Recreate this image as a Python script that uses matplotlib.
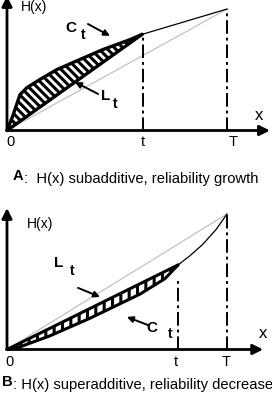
import matplotlib
matplotlib.use("Agg")
import matplotlib.pyplot as plt
import numpy as np

plt.rcParams['font.family'] = ['Liberation Sans', 'DejaVu Sans']
plt.rcParams['hatch.linewidth'] = 2.2

# panel A: subadditive H(x), T = 1
t_a = 0.617
x_a = [0, 0.027, 0.059, 0.091, 0.15, 0.227, 0.332, 0.436, 0.559, 0.614]
h_a = [0, 0.068, 0.163, 0.195, 0.232, 0.277, 0.323, 0.368, 0.413, 0.437]
hT_a = 0.552

# panel B: superadditive H(x)
t_b = 0.777
x_b = [0, 0.059, 0.195, 0.377, 0.605, 0.718, 0.777]
h_b = [0, 0.012, 0.062, 0.142, 0.252, 0.322, 0.384]
x_b2 = [0.777, 0.83, 0.89, 0.95, 1.0]
h_b2 = [0.384, 0.425, 0.478, 0.545, 0.616]

ticks = ['0', 't', 'T']
cap_a = ('A', ':  H(x) subadditive, reliability growth')
cap_b = ('B', ': H(x) superadditive, reliability decrease')

FS = 10
CAP_FS = 10.6
dashdot = (0, (7, 2, 1.5, 2))


def arrow(ax, x0, y0, x1, y1, lw=1.6, ms=11):
    ax.annotate('', xy=(x1, y1), xytext=(x0, y0), annotation_clip=False,
                arrowprops=dict(arrowstyle='-|>', lw=lw, color='black',
                                mutation_scale=ms, shrinkA=0, shrinkB=0))


def frame(ax, xtip, ytip, ylab, xs, ylbl, xl):
    arrow(ax, 0, 0, xtip, 0, lw=2, ms=15)
    arrow(ax, 0, 0, 0, ytip, lw=2, ms=15)
    for lab, xx in zip(ticks, xs):
        ax.text(xx, ylbl, lab, fontsize=FS + 0.5, ha='center', va='center')
    ax.text(ylab[0], ylab[1], 'H(x)', fontsize=FS, ha='left', va='center')
    ax.text(xl[0], xl[1], 'x', fontsize=FS + 2, ha='center', va='center')


def sub_label(ax, letter, p1, p2, fs=11):
    ax.text(p1[0], p1[1], letter, fontsize=fs, fontweight='bold', ha='center', va='center')
    ax.text(p2[0], p2[1], 't', fontsize=fs - 1, fontweight='bold', ha='center', va='center')


def caption(ax, x, y, cap):
    first = ax.text(x, y, cap[0], fontsize=CAP_FS, fontweight='bold', ha='left', va='baseline')
    ax.annotate(cap[1], xy=(1, 0), xycoords=first, fontsize=CAP_FS, ha='left', va='baseline')


fig = plt.figure(figsize=(2.72, 3.96), dpi=100)
axA = fig.add_axes([0, 200 / 396, 1, 200 / 396])
axB = fig.add_axes([0, 0, 1, 196 / 396])
axA.set_xlim(-7 / 220, 265 / 220)
axA.set_ylim(-65.5 / 220, 134.5 / 220)
axB.set_xlim(-7 / 220, 265 / 220)
axB.set_ylim(-46.5 / 220, 149.5 / 220)
for ax in (axA, axB):
    ax.axis('off')

# ---- panel A
xa = np.array(x_a)
ha = np.array(h_a)
chord_a = ha[-1] / xa[-1] * xa
axA.plot([0, 1], [0, hT_a], color='#bbbbbb', lw=0.8)
axA.fill_between(xa, chord_a, ha, facecolor='white', edgecolor='black',
                 hatch='\\\\\\\\', lw=0)
axA.plot(xa, ha, color='black', lw=2.4, solid_capstyle='round')
axA.plot([0, xa[-1]], [0, ha[-1]], color='black', lw=2.4, solid_capstyle='round')
axA.plot([xa[-1], 1], [ha[-1], hT_a], color='black', lw=0.9)
axA.plot([t_a, t_a], [0, ha[-1]], color='black', lw=1.4, ls=dashdot)
axA.plot([1, 1], [0, hT_a], color='black', lw=1.4, ls=dashdot)
frame(axA, 1.195, 0.611, (0.064, 0.56), [0.014, t_a, 1.027], -0.052, (1.145, 0.066))
sub_label(axA, 'C', (0.291, 0.466), (0.345, 0.434))
arrow(axA, 0.368, 0.484, 0.468, 0.43, lw=1.4, ms=9)
sub_label(axA, 'L', (0.45, 0.157), (0.491, 0.12))
arrow(axA, 0.414, 0.166, 0.309, 0.22, lw=1.4, ms=9)
caption(axA, 0.027, -0.225, cap_a)

# ---- panel B
xb = np.array(x_b)
hb = np.array(h_b)
chord_b = hb[-1] / xb[-1] * xb
axB.plot([0, 1], [0, h_b2[-1]], color='#bbbbbb', lw=0.8)
axB.fill_between(xb, hb, chord_b, facecolor='white', edgecolor='black',
                 hatch='||', lw=0)
axB.plot(xb, hb, color='black', lw=2.2, solid_capstyle='round')
axB.plot([0, xb[-1]], [0, hb[-1]], color='black', lw=2.2, solid_capstyle='round')
axB.plot(x_b2, h_b2, color='black', lw=0.9)
axB.plot([t_b, t_b], [0, 0.316], color='black', lw=1.4, ls=dashdot)
axB.plot([1, 1], [0, h_b2[-1]], color='black', lw=1.4, ls=dashdot)
frame(axB, 1.164, 0.643, (0.091, 0.57), [0.01, 0.768, 0.995], -0.057, (1.164, 0.075))
sub_label(axB, 'L', (0.236, 0.393), (0.295, 0.357))
arrow(axB, 0.323, 0.28, 0.423, 0.239, lw=1.4, ms=9)
sub_label(axB, 'C', (0.66, 0.098), (0.74, 0.07))
arrow(axB, 0.641, 0.111, 0.545, 0.148, lw=1.4, ms=9)
caption(axB, -0.023, -0.165, cap_b)

fig.savefig('out.png', dpi=100)
